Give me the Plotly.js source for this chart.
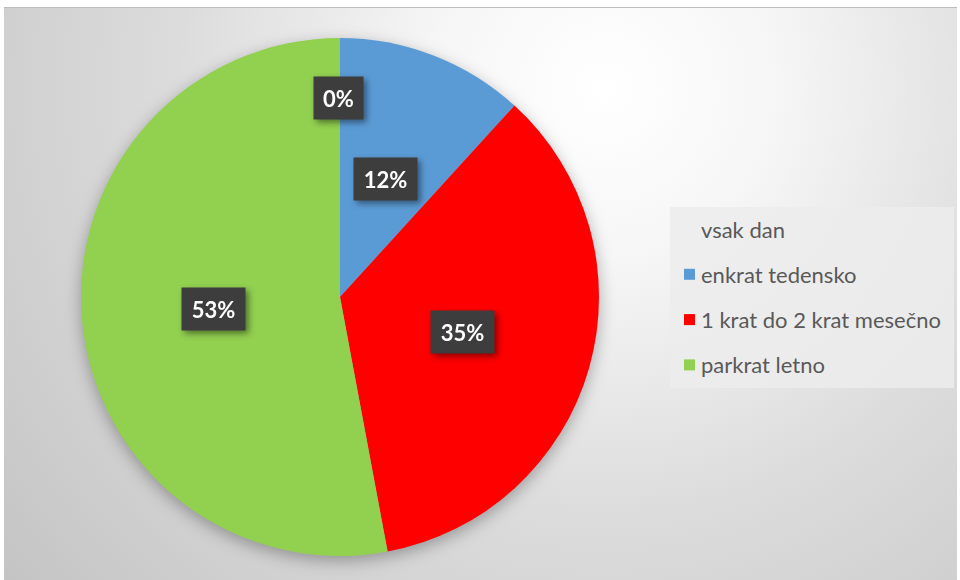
<!DOCTYPE html>
<html>
<head>
<meta charset="utf-8">
<script src="https://cdn.plot.ly/plotly-3.0.1.min.js"></script>
<style>
  body { margin: 0; background: #ffffff; }
  #wrap { position: relative; width: 960px; height: 580px; }
  #bg {
    position: absolute; left: 4px; top: 7px; width: 953px; height: 573px;
    border-top: 1px solid #bdbdbd;
    background: radial-gradient(circle farthest-corner at 63% 14%, #ffffff 0%, #f6f6f6 22%, #dcdcdc 55%, #c4c4c4 100%);
  }
  #myPlot { position: absolute; left: 0; top: 0; width: 960px; height: 580px; }
  .pielayer .trace { filter: drop-shadow(0px 5px 8px rgba(0,0,0,0.3)); }
  g.annotation[data-index="0"], g.annotation[data-index="1"],
  g.annotation[data-index="2"], g.annotation[data-index="3"] {
    filter: drop-shadow(3px 3px 3px rgba(0,0,0,0.45));
  }
</style>
</head>
<body>
<div id="wrap">
  <div id="bg"></div>
  <div id="myPlot"></div>
</div>
<script>
// Data
var labels = ["vsak dan", "enkrat tedensko", "1 krat do 2 krat mesečno", "parkrat letno"];
var counts = [0, 2, 6, 9];
var colors = ["rgba(0,0,0,0)", "#5b9bd5", "#ff0000", "#92d050"];

var W = 960, H = 580;
// pie placement in pixels
var cx = 340, cy = 297, R = 259;

var total = counts.reduce(function(a, b) { return a + b; }, 0);

var data = [{
  type: "pie",
  labels: labels,
  values: counts,
  sort: false,
  direction: "clockwise",
  rotation: 0,
  textinfo: "none",
  hoverinfo: "label+percent",
  marker: {colors: colors, line: {width: 0}},
  domain: {x: [(cx - R) / W, (cx + R) / W], y: [1 - (cy + R) / H, 1 - (cy - R) / H]},
  showlegend: false
}];

// percent labels in dark boxes, placed at the middle angle of each slice
var annotations = [];
var cum = 0;
for (var i = 0; i < counts.length; i++) {
  var frac = counts[i] / total;
  var mid = (cum + frac / 2) * 2 * Math.PI;
  cum += frac;
  var dist = counts[i] === 0 ? 0.77 * R : 0.49 * R;
  var px = cx + dist * Math.sin(mid) - (counts[i] === 0 ? 2 : 0);
  var py = cy - dist * Math.cos(mid);
  var txt = Math.round(frac * 100) + "%";
  annotations.push({
    xref: "paper", yref: "paper",
    x: px / W, y: 1 - py / H,
    xanchor: "center", yanchor: "middle",
    text: txt,
    showarrow: false,
    width: 14 * txt.length + 7,
    height: 28,
    bgcolor: "#3d3d3d",
    borderpad: 7,
    font: {family: "Lato, 'Open Sans', sans-serif", size: 22, color: "#ffffff", weight: "bold"}
  });
}

// legend drawn as a box, squares and texts
var shapes = [{
  type: "rect", xref: "paper", yref: "paper",
  x0: 670 / W, x1: 954 / W, y0: 1 - 388 / H, y1: 1 - 207 / H,
  fillcolor: "rgba(236,236,236,0.85)", line: {width: 0}, layer: "below"
}];
var legendTop = 229, legendStep = 45.3;
for (var j = 0; j < labels.length; j++) {
  var ly = legendTop + j * legendStep;
  shapes.push({
    type: "rect", xref: "paper", yref: "paper",
    x0: 684 / W, x1: 695 / W, y0: 1 - (ly + 5.5) / H, y1: 1 - (ly - 5.5) / H,
    fillcolor: colors[j], line: {width: 0}
  });
  annotations.push({
    xref: "paper", yref: "paper",
    x: 699 / W, y: 1 - ly / H,
    xanchor: "left", yanchor: "middle",
    text: labels[j],
    showarrow: false,
    font: {family: "Lato, 'Open Sans', sans-serif", size: 22, color: "#595959"}
  });
}

var layout = {
  width: W, height: H,
  margin: {l: 0, r: 0, t: 0, b: 0},
  paper_bgcolor: "rgba(0,0,0,0)",
  plot_bgcolor: "rgba(0,0,0,0)",
  showlegend: false,
  annotations: annotations,
  shapes: shapes
};

Plotly.newPlot("myPlot", data, layout, {displayModeBar: false, staticPlot: true});
</script>
</body>
</html>
